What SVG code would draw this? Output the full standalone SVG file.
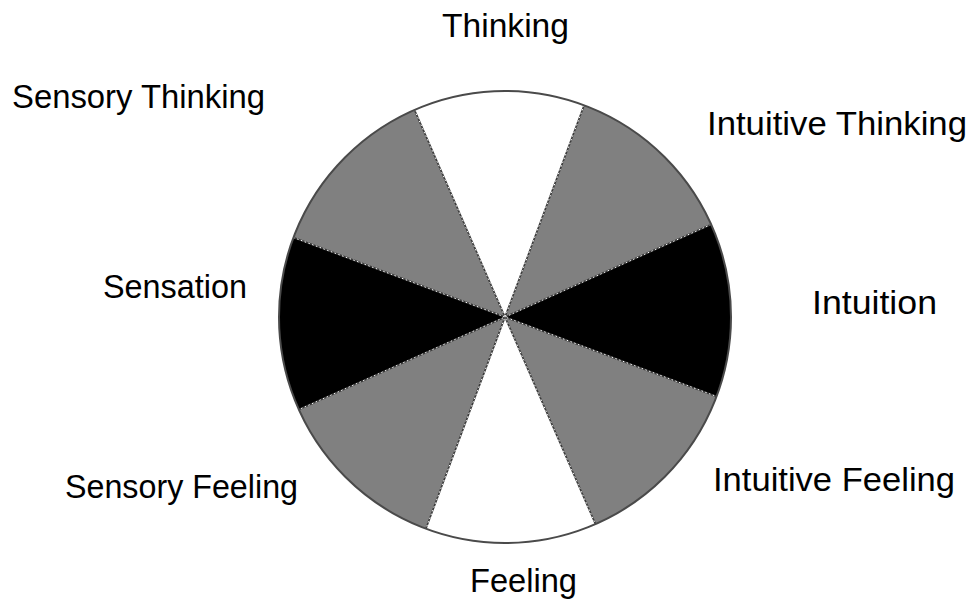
<svg xmlns="http://www.w3.org/2000/svg" width="974" height="613" viewBox="0 0 974 613">
  <style>
    .lbl { font-family: "Liberation Sans", Arial, sans-serif; font-size: 34px; fill: #000; }
    .w { stroke: none; }
    .gray { fill: #808080; }
    .black { fill: #000; }
    .white { fill: #fff; }
    .spoke { stroke: #3a3a3a; stroke-width: 1.6; fill: none; }
    .dots { stroke: #ffffff; stroke-width: 1; stroke-dasharray: 1.5 2.5; fill: none; }
    .rim { fill: none; stroke: #4a4a4a; stroke-width: 2; }
  </style>
  <rect width="974" height="613" fill="#fff"/>
  <g id="wheel">
    <g id="wedge-intuition"><path class="w black" d="M505,317 L711.1,224.4 A226,226 0 0 1 716.6,396.5 Z"/></g>
    <g id="wedge-intuitive-feeling"><path class="w gray" d="M505,317 L716.6,396.5 A226,226 0 0 1 595.5,524.1 Z"/></g>
    <g id="wedge-feeling"><path class="w white" d="M505,317 L595.5,524.1 A226,226 0 0 1 425.9,528.7 Z"/></g>
    <g id="wedge-sensory-feeling"><path class="w gray" d="M505,317 L425.9,528.7 A226,226 0 0 1 298.9,409.6 Z"/></g>
    <g id="wedge-sensation"><path class="w black" d="M505,317 L298.9,409.6 A226,226 0 0 1 293.4,237.5 Z"/></g>
    <g id="wedge-sensory-thinking"><path class="w gray" d="M505,317 L293.4,237.5 A226,226 0 0 1 414.5,109.9 Z"/></g>
    <g id="wedge-thinking"><path class="w white" d="M505,317 L414.5,109.9 A226,226 0 0 1 584.1,105.3 Z"/></g>
    <g id="wedge-intuitive-thinking"><path class="w gray" d="M505,317 L584.1,105.3 A226,226 0 0 1 711.1,224.4 Z"/></g>
  </g>
  <g id="connectors">
    <path class="spoke" d="M711.1,224.4 L298.9,409.6 M584.1,105.3 L425.9,528.7 M414.5,109.9 L595.5,524.1 M293.4,237.5 L716.6,396.5"/>
    <path class="dots" d="M711.1,224.4 L298.9,409.6 M584.1,105.3 L425.9,528.7 M414.5,109.9 L595.5,524.1 M293.4,237.5 L716.6,396.5"/>
    <circle class="rim" cx="505" cy="317" r="226"/>
  </g>
  <g id="label-thinking"><text class="lbl" x="442" y="37" textLength="127" lengthAdjust="spacingAndGlyphs">Thinking</text></g>
  <g id="label-sensory-thinking"><text class="lbl" x="12" y="108" textLength="253" lengthAdjust="spacingAndGlyphs">Sensory Thinking</text></g>
  <g id="label-intuitive-thinking"><text class="lbl" x="707" y="135" textLength="260" lengthAdjust="spacingAndGlyphs">Intuitive Thinking</text></g>
  <g id="label-sensation"><text class="lbl" x="103" y="298" textLength="144" lengthAdjust="spacingAndGlyphs">Sensation</text></g>
  <g id="label-intuition"><text class="lbl" x="812" y="314" textLength="125" lengthAdjust="spacingAndGlyphs">Intuition</text></g>
  <g id="label-sensory-feeling"><text class="lbl" x="65" y="498" textLength="233" lengthAdjust="spacingAndGlyphs">Sensory Feeling</text></g>
  <g id="label-intuitive-feeling"><text class="lbl" x="713" y="491" textLength="242" lengthAdjust="spacingAndGlyphs">Intuitive Feeling</text></g>
  <g id="label-feeling"><text class="lbl" x="470" y="592" textLength="107" lengthAdjust="spacingAndGlyphs">Feeling</text></g>
</svg>
